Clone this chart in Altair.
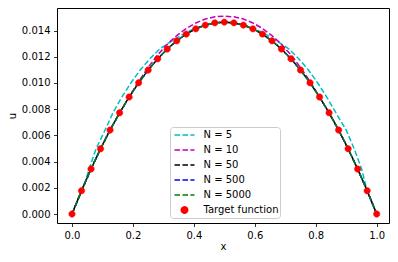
import altair as alt
import pandas as pd

# ---- data ----
x_target = [0.0, 0.03125, 0.0625, 0.09375, 0.125, 0.15625, 0.1875, 0.21875, 0.25,
            0.28125, 0.3125, 0.34375, 0.375, 0.40625, 0.4375, 0.46875, 0.5,
            0.53125, 0.5625, 0.59375, 0.625, 0.65625, 0.6875, 0.71875, 0.75,
            0.78125, 0.8125, 0.84375, 0.875, 0.90625, 0.9375, 0.96875, 1.0]
u_target = [0.0, 0.001774, 0.003434, 0.004979, 0.006409, 0.007726, 0.008927, 0.010015,
            0.010988, 0.011846, 0.012590, 0.013219, 0.013734, 0.014135, 0.014421,
            0.014593, 0.01465, 0.014593, 0.014421, 0.014135, 0.013734, 0.013219,
            0.012590, 0.011846, 0.010988, 0.010015, 0.008927, 0.007726, 0.006409,
            0.004979, 0.003434, 0.001774, 0.0]

x_n5 = [0.0, 0.0423, 0.0559, 0.079, 0.1086, 0.1346, 0.1635, 0.1937, 0.2237, 0.2557,
        0.2875, 0.328, 0.365, 0.400, 0.434, 0.5, 0.566, 0.600, 0.635, 0.672, 0.7125,
        0.744, 0.776, 0.806, 0.836, 0.866, 0.900, 0.926, 0.9506, 0.9688, 0.9905, 1.0]
u_n5 = [0.0, 0.00234, 0.00343, 0.00498, 0.00641, 0.00773, 0.00893, 0.01002, 0.01099,
        0.01185, 0.01259, 0.01322, 0.01373, 0.01414, 0.01442, 0.01465, 0.01442, 0.01414,
        0.01373, 0.01322, 0.01259, 0.01185, 0.01099, 0.01002, 0.00893, 0.00773, 0.00641,
        0.00498, 0.00343, 0.00177, 0.00056, 0.0]

u_n10 = [0.0, 0.001774, 0.003434, 0.004979, 0.006409, 0.007726, 0.008927, 0.010115,
         0.011188, 0.012146, 0.01295, 0.013619, 0.014164, 0.014585, 0.014881, 0.015053,
         0.0151, 0.015053, 0.014881, 0.014585, 0.014164, 0.013619, 0.01295, 0.012146,
         0.011188, 0.010115, 0.008927, 0.007726, 0.006409, 0.004979, 0.003434, 0.001774, 0.0]
u_n50 = list(u_target)
u_n500 = list(u_target)
u_n5000 = list(u_target)

names = ["N = 5", "N = 10", "N = 50", "N = 500", "N = 5000", "Target function"]
colors = ["#00bfbf", "#bf00bf", "#000000", "#0000ff", "#008000", "#ff0000"]
dash = [5.55, 2.4]
dashes = [dash, dash, dash, dash, dash, [1, 0]]
circle_path = "M0.32,0A0.32,0.32,0,1,1,-0.32,0A0.32,0.32,0,1,1,0.32,0Z"
shapes = ["stroke", "stroke", "stroke", "stroke", "stroke", circle_path]

x_ticks = [0.0, 0.2, 0.4, 0.6, 0.8, 1.0]
y_ticks = [0.0, 0.002, 0.004, 0.006, 0.008, 0.010, 0.012, 0.014]

rows = []
for xv, uv in zip(x_n5, u_n5):
    rows.append({"series": names[0], "x": xv, "u": uv})
for series_name, values in zip(names[1:5], [u_n10, u_n50, u_n500, u_n5000]):
    for xv, uv in zip(x_target, values):
        rows.append({"series": series_name, "x": xv, "u": uv})
for xv, uv in zip(x_target, u_target):
    rows.append({"series": names[5], "x": xv, "u": uv})
df = pd.DataFrame(rows)

font = "DejaVu Sans"
x_enc = alt.X("x:Q", scale=alt.Scale(domain=[-0.0492, 1.0404], nice=False, zero=False),
              axis=alt.Axis(values=x_ticks, format=".1f", title="x", grid=False,
                            domain=False, tickSize=3.5, tickWidth=0.8, tickColor="black",
                            labelFontSize=10, labelFont=font, labelColor="black",
                            labelPadding=3.5, labelFlush=False, labelOverlap=False,
                            titleFontSize=10, titleFont=font, titleFontWeight="normal",
                            titleColor="black", titlePadding=1))
y_enc = alt.Y("u:Q", scale=alt.Scale(domain=[-0.000687, 0.015725], nice=False, zero=False),
              axis=alt.Axis(values=y_ticks, format=".3f", title="u", grid=False,
                            domain=False, tickSize=3.5, tickWidth=0.8, tickColor="black",
                            labelFontSize=10, labelFont=font, labelColor="black",
                            labelPadding=3.5, labelFlush=False, labelOverlap=False,
                            titleFontSize=10, titleFont=font, titleFontWeight="normal",
                            titleColor="black", titlePadding=4))

layers = []
offsets = [0, 0, 3.5, 0, 0]
for i in range(5):
    layers.append(
        alt.Chart(df)
        .transform_filter(alt.datum.series == names[i])
        .mark_line(color=colors[i], strokeDash=dash, strokeWidth=1.5,
                   strokeDashOffset=offsets[i])
        .encode(x=x_enc, y=y_enc)
    )

leg = alt.Legend(title=None, orient="none", legendX=113, legendY=119,
                 symbolSize=400, symbolStrokeWidth=1.5, symbolOffset=2,
                 symbolOpacity=1, labelFontSize=10, labelFont=font,
                 labelColor="black", labelOffset=8, rowPadding=2, clipHeight=13,
                 padding=1.5, fillColor="rgba(255,255,255,0.8)",
                 strokeColor="#cccccc", cornerRadius=3)

points = (
    alt.Chart(df)
    .transform_filter(alt.datum.series == names[5])
    .mark_point(filled=True, size=400, opacity=1, strokeWidth=0.5)
    .encode(
        x=x_enc, y=y_enc,
        color=alt.Color("series:N", scale=alt.Scale(domain=names, range=colors), legend=leg),
        stroke=alt.Stroke("series:N", scale=alt.Scale(domain=names, range=colors), legend=leg),
        shape=alt.Shape("series:N", scale=alt.Scale(domain=names, range=shapes), legend=leg),
        strokeDash=alt.StrokeDash("series:N", scale=alt.Scale(domain=names, range=dashes), legend=leg),
    )
)
layers.append(points)

chart = (
    alt.layer(*layers)
    .properties(width=332, height=215,
                autosize=alt.AutoSizeParams(type="none"),
                padding={"left": 49, "top": 0, "right": 1, "bottom": 27})
    .configure(font=font)
    .configure_view(stroke="black", strokeWidth=1)
)

chart.save("out.html", embed_options={"renderer": "svg", "actions": False})
